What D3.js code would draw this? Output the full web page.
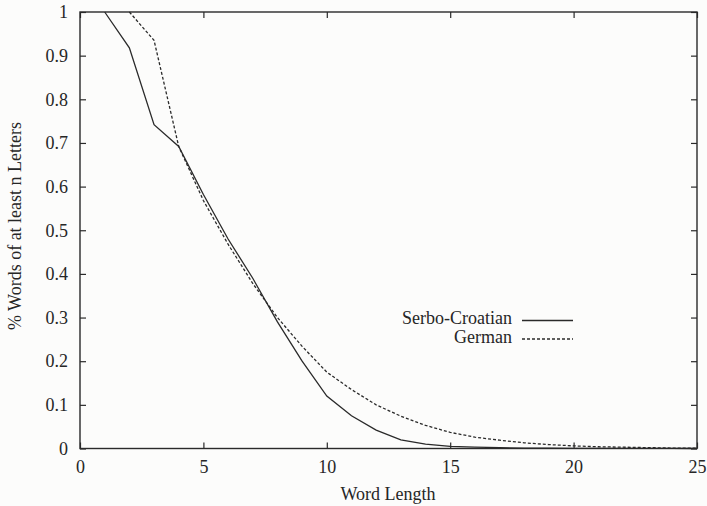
<!DOCTYPE html>
<html>
<head>
<meta charset="utf-8">
<script src="https://cdn.jsdelivr.net/npm/d3@7"></script>
<style>
  html, body { margin: 0; padding: 0; background: #fcfcfb; }
</style>
</head>
<body>
<svg id="chart" width="707" height="506"></svg>
<script>
// Word length n (letters)
const wordLength = [1, 2, 3, 4, 5, 6, 7, 8, 9, 10, 11, 12, 13, 14, 15, 16, 17, 18, 19, 20, 21, 22, 23, 24, 25];
// Share of words having at least n letters
const serboCroatian = [1.0, 0.918, 0.742, 0.692, 0.582, 0.480, 0.390, 0.290, 0.200, 0.120, 0.075, 0.042, 0.020, 0.010, 0.005, 0.003, 0.002, 0.001, 0.001, 0.0005, 0.0003, 0.0002, 0.0001, 0.0001, 0.0];
const germanWords = [null, 1.0, 0.935, 0.692, 0.568, 0.468, 0.378, 0.300, 0.234, 0.175, 0.135, 0.100, 0.074, 0.053, 0.037, 0.026, 0.019, 0.013, 0.009, 0.006, 0.004, 0.003, 0.002, 0.001, 0.001];
const xTicks = [0, 5, 10, 15, 20, 25];
const yTicks = [0, 0.1, 0.2, 0.3, 0.4, 0.5, 0.6, 0.7, 0.8, 0.9, 1];
const seriesNames = ["Serbo-Croatian", "German"];

const svg = d3.select("#chart");
const margin = { left: 80, right: 10, top: 12, bottom: 57.5 };
const W = 707, H = 506;
const serif = "'Liberation Serif', 'Times New Roman', Times, serif";
const fontSize = 18;

const x = d3.scaleLinear().domain([0, 25]).range([margin.left, W - margin.right]);
const y = d3.scaleLinear().domain([0, 1]).range([H - margin.bottom, margin.top]);

const ink = "#2a2a2a";
const textInk = "#262626";
const tickFmt = d => d === 0 || d === 1 ? String(d) : d3.format(".1f")(d);

// Inward ticks on all four sides
const tickLen = 6;
const g = svg.append("g");

const axBottom = g.append("g").attr("transform", `translate(0,${y(0)})`)
  .call(d3.axisBottom(x).tickValues(xTicks).tickSizeInner(-tickLen).tickSizeOuter(0).tickPadding(12).tickFormat(d3.format("d")));
const axTop = g.append("g").attr("transform", `translate(0,${y(1)})`)
  .call(d3.axisTop(x).tickValues(xTicks).tickSizeInner(-tickLen).tickSizeOuter(0).tickFormat(""));
const axLeft = g.append("g").attr("transform", `translate(${x(0)},0)`)
  .call(d3.axisLeft(y).tickValues(yTicks).tickSizeInner(-tickLen).tickSizeOuter(0).tickPadding(12).tickFormat(tickFmt));
const axRight = g.append("g").attr("transform", `translate(${x(25)},0)`)
  .call(d3.axisRight(y).tickValues(yTicks).tickSizeInner(-tickLen).tickSizeOuter(0).tickFormat(""));

[axBottom, axTop, axLeft, axRight].forEach(a => {
  a.select(".domain").remove();
  a.selectAll(".tick line").attr("stroke", ink).attr("stroke-width", 1.2);
  a.selectAll(".tick text")
    .style("font-family", serif).style("font-size", fontSize + "px")
    .attr("fill", textInk);
});

// Frame
g.append("rect")
  .attr("x", x(0)).attr("y", y(1))
  .attr("width", x(25) - x(0)).attr("height", y(0) - y(1))
  .attr("fill", "none").attr("stroke", ink).attr("stroke-width", 1.4);

// Curves
const line = d3.line()
  .defined(d => d[1] !== null)
  .x(d => x(d[0])).y(d => y(d[1]));

const curves = [
  { name: seriesNames[0], values: serboCroatian, dash: null },
  { name: seriesNames[1], values: germanWords, dash: "3,2" }
];

curves.forEach(c => {
  svg.append("path")
    .datum(wordLength.map((n, i) => [n, c.values[i]]))
    .attr("d", line)
    .attr("fill", "none")
    .attr("stroke", ink)
    .attr("stroke-width", 1.3)
    .attr("stroke-dasharray", c.dash);
});

// Legend
const legend = svg.append("g").attr("transform", "translate(512,320.5)");
curves.forEach((c, i) => {
  const row = legend.append("g").attr("transform", `translate(0,${i * 18.5})`);
  row.append("text").attr("x", 0).attr("y", 3.5).attr("text-anchor", "end")
    .style("font-family", serif).style("font-size", fontSize + "px")
    .attr("fill", textInk).text(c.name);
  row.append("line").attr("x1", 10).attr("x2", 61).attr("y1", 0).attr("y2", 0)
    .attr("stroke", ink).attr("stroke-width", 1.3).attr("stroke-dasharray", c.dash);
});

// Axis titles
svg.append("text").attr("x", 388).attr("y", 500)
  .attr("text-anchor", "middle")
  .style("font-family", serif).style("font-size", fontSize + "px")
  .attr("fill", textInk).text("Word Length");
svg.append("text")
  .attr("transform", `translate(21,226) rotate(-90)`)
  .attr("text-anchor", "middle")
  .style("font-family", serif).style("font-size", fontSize + "px")
  .attr("fill", textInk).text("% Words of at least n Letters");
</script>
</body>
</html>
